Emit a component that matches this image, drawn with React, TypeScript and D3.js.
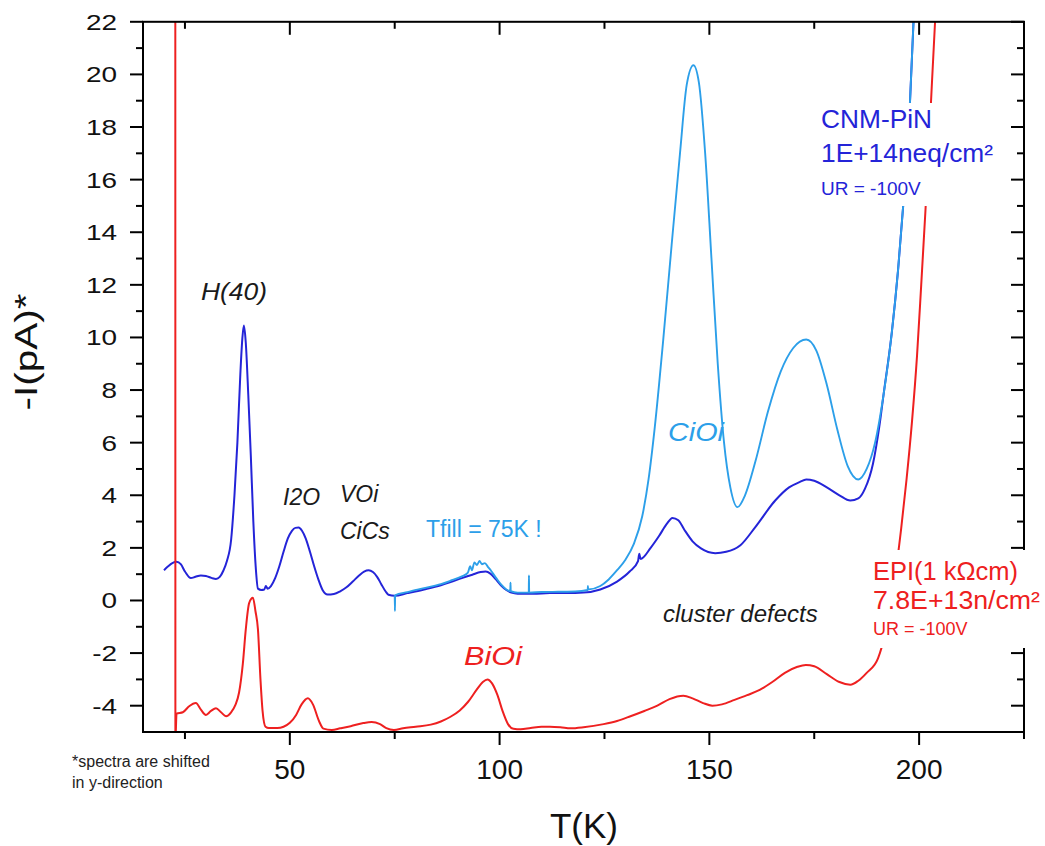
import React from "react";
import * as d3 from "d3";

// Temperature (K) / current (pA, shifted) pairs for each spectrum
const pinStandard: [number, number][] = [
  [20, 1.15], [21, 1.3], [22, 1.42], [23, 1.47], [24, 1.38], [25, 1.1], [26.4, 0.85], [27.5, 0.9],
  [28.8, 0.95], [30, 0.93], [31.3, 0.86], [32.4, 0.82], [33.3, 0.9], [34.2, 1.15], [35, 1.5], [36, 2.3],
  [36.8, 4.0], [37.5, 6.0], [38.2, 8.6], [38.7, 10.0], [39.05, 10.45], [39.5, 9.8], [40.1, 7.8], [40.7, 5.5],
  [41.3, 3.0], [41.9, 1.2], [42.4, 0.45], [43.2, 0.4], [43.9, 0.42], [44.3, 0.55], [44.7, 0.45], [45.5, 0.55],
  [46.5, 0.85], [47.5, 1.3], [48.5, 1.85], [49.5, 2.35], [50.5, 2.65], [51.3, 2.76], [52.1, 2.77], [52.9, 2.65],
  [53.8, 2.35], [54.8, 1.85], [55.8, 1.3], [56.8, 0.8], [57.8, 0.4], [59, 0.23], [60.5, 0.25], [62, 0.35],
  [63.5, 0.5], [65, 0.72], [66.5, 0.95], [67.7, 1.1], [68.8, 1.15], [69.8, 1.08], [70.8, 0.9], [71.8, 0.62],
  [72.8, 0.35], [73.5, 0.22], [75, 0.18], [78, 0.28], [82, 0.42], [86, 0.58], [88.3, 0.7], [91, 0.85],
  [93.5, 0.98], [95.5, 1.08], [96.7, 1.1], [97.8, 1.02], [99, 0.82], [100.3, 0.58], [101.6, 0.4], [102.8, 0.3],
  [104.3, 0.26], [108, 0.26], [112, 0.28], [116, 0.28], [120, 0.3], [124, 0.42], [128, 0.72], [131, 1.1],
  [133, 1.5], [133.3, 1.78], [133.6, 1.58], [136, 2.0], [138, 2.45], [139.8, 2.9], [141.2, 3.14], [142.6, 3.05],
  [144, 2.7], [146, 2.25], [148, 1.98], [151.4, 1.8], [154, 1.85], [157.4, 2.1], [161, 2.8], [165.7, 3.8],
  [169, 4.3], [171.5, 4.5], [173.1, 4.6], [175, 4.55], [178, 4.3], [181, 4.0], [183.6, 3.8], [185.5, 3.88],
  [187.1, 4.25], [189, 5.2], [190.5, 6.6], [191.5, 7.8], [193.5, 10.2], [195, 12.6], [196.5, 15.6],
  [197.7, 18.5], [198.8, 22.5],
];

const pinFill75: [number, number][] = [
  [75.0, 0.2], [75.05, -0.4], [75.1, 0.2], [78, 0.32], [82, 0.47], [86, 0.62], [88.3, 0.75], [91, 0.92],
  [92.4, 1.05], [93, 1.3], [93.4, 1.15], [94, 1.45], [94.6, 1.35], [95.2, 1.5], [95.8, 1.38], [96.5, 1.42],
  [97.2, 1.28], [98, 1.12], [99.2, 0.85], [100.4, 0.6], [101.6, 0.42], [102.55, 0.36], [102.6, 0.68],
  [102.65, 0.36], [104.3, 0.3], [106.95, 0.3], [107.0, 0.95], [107.05, 0.3], [110, 0.32], [114, 0.33],
  [118, 0.34], [121, 0.4], [121.05, 0.55], [121.1, 0.42], [124, 0.55], [126, 0.8], [128, 1.15], [130, 1.55],
  [132, 2.15], [134, 3.2], [135.5, 4.6], [137, 6.6], [139, 9.9], [141, 13.5], [143, 17.0], [144.6, 19.6],
  [146.2, 20.35], [147.5, 19.7], [149, 17.0], [150.5, 13.0], [152, 9.0], [153.5, 6.0], [155, 4.3],
  [156.7, 3.55], [158.5, 4.0], [161, 5.3], [164, 7.2], [167, 8.7], [170, 9.6], [173.1, 9.92], [175.5, 9.5],
  [178, 8.2], [180.5, 6.5], [183, 5.1], [185.5, 4.6], [187.5, 5.0], [189.5, 6.0], [191.5, 7.8], [193.5, 10.2],
  [195, 12.6], [196.5, 15.6], [197.7, 18.5], [198.8, 22.5],
];

const epiCurve: [number, number][] = [
  [22.7, 26], [22.72, -5.3], [23.0, -4.3], [24.5, -4.25], [26, -4.02], [27.6, -3.9], [28.8, -4.15],
  [30, -4.35], [31.2, -4.2], [32.4, -4.1], [33.6, -4.25], [34.8, -4.4], [36, -4.25], [37, -3.98],
  [37.9, -3.5], [38.8, -2.4], [39.5, -1.1], [40.3, -0.1], [41.2, 0.1], [41.8, -0.4], [42.4, -1.1],
  [43.0, -3.0], [43.5, -4.2], [44.2, -4.8], [45, -4.85], [47, -4.85], [48.5, -4.8], [50, -4.65],
  [51.5, -4.35], [52.8, -3.95], [54.3, -3.72], [55.5, -3.95], [57, -4.6], [58, -4.87], [60, -4.92],
  [62, -4.86], [64.5, -4.78], [67.5, -4.66], [69.5, -4.62], [71.5, -4.7], [73, -4.85], [74.8, -4.92],
  [77, -4.86], [80, -4.8], [83.6, -4.72], [86, -4.6], [88.3, -4.42], [90.5, -4.18], [92.5, -3.85],
  [94.5, -3.4], [96, -3.1], [97.1, -3.0], [98.2, -3.15], [99.5, -3.6], [100.7, -4.2], [102, -4.7],
  [103.3, -4.88], [105, -4.9], [107.4, -4.85], [110, -4.8], [112, -4.8], [114.5, -4.82], [116.9, -4.86],
  [120, -4.82], [124.8, -4.7], [128, -4.58], [131.2, -4.4], [134.5, -4.2], [137.6, -4.0], [140.5, -3.75],
  [143.8, -3.62], [146, -3.72], [148.5, -3.9], [150.7, -4.0], [153, -3.95], [156, -3.78], [159, -3.6],
  [162, -3.4], [165, -3.1], [168, -2.75], [171, -2.52], [173, -2.45], [175, -2.5], [178, -2.8], [181, -3.1],
  [183.6, -3.2], [185.5, -3.05], [187.5, -2.75], [190.2, -2.2], [192, -1.2], [194, 0.6], [195.7, 2.7],
  [197, 4.6], [198.3, 6.8], [199.5, 9.3], [200.5, 12.0], [201.5, 14.8], [202.3, 17.2], [203, 19.5],
  [203.8, 22], [204.3, 23.5],
];

const xMajorTicks = [50, 100, 150, 200];
const xMinorTicks = [25, 75, 125, 175, 225];
const yMajorTicks = [-4, -2, 0, 2, 4, 6, 8, 10, 12, 14, 16, 18, 20, 22];
const yMinorTicks = [-3, -1, 1, 3, 5, 7, 9, 11, 13, 15, 17, 19, 21];

const DARK_BLUE = "#2424d8";
const LIGHT_BLUE = "#2c9fe9";
const RED = "#ee2020";
const FONT = "'Liberation Sans', Arial, Helvetica, sans-serif";

const W = 1045;
const H = 846;
const L = 143;
const R = 1024;
const T = 21.8;
const B = 732;

export default function App() {
  const x = d3.scaleLinear().domain([15, 225]).range([L, R]);
  const y = d3.scaleLinear().domain([-5, 22]).range([B, T]);
  const line = d3
    .line<[number, number]>()
    .x((d) => x(d[0]))
    .y((d) => y(d[1]))
    .curve(d3.curveMonotoneX);

  const majorLen = 13;
  const minorLen = 7;

  return (
    <svg
      width={W}
      height={H}
      style={{ position: "absolute", left: 0, top: 0, background: "#fff" }}
      fontFamily={FONT}
    >
      <defs>
        <clipPath id="plot-area">
          <rect x={L} y={T} width={R - L} height={B - T} />
        </clipPath>
      </defs>
      <rect x={0} y={0} width={W} height={H} fill="#fff" />

      {/* spectra: standard fill below, 75 K fill above it */}
      <g clipPath="url(#plot-area)" fill="none" strokeWidth={2} strokeLinejoin="round">
        <path d={line(pinStandard) || ""} stroke={DARK_BLUE} />
        <path d={line(pinFill75) || ""} stroke={LIGHT_BLUE} strokeWidth={1.9} />
        <path d={line(epiCurve) || ""} stroke={RED} />
      </g>

      {/* frame and ticks */}
      <g stroke="#000" strokeWidth={2}>
        <rect x={L} y={T} width={R - L} height={B - T} fill="none" />
        {xMajorTicks.map((t) => (
          <g key={"xM" + t}>
            <line x1={x(t)} x2={x(t)} y1={B} y2={B + majorLen} />
            <line x1={x(t)} x2={x(t)} y1={T} y2={T + majorLen} />
          </g>
        ))}
        {xMinorTicks.map((t) => (
          <g key={"xm" + t}>
            <line x1={x(t)} x2={x(t)} y1={B} y2={B + minorLen} />
            <line x1={x(t)} x2={x(t)} y1={T} y2={T + minorLen} />
          </g>
        ))}
        {yMajorTicks.map((t) => (
          <g key={"yM" + t}>
            <line x1={L - majorLen} x2={L} y1={y(t)} y2={y(t)} />
            <line x1={R - majorLen} x2={R} y1={y(t)} y2={y(t)} />
          </g>
        ))}
        {yMinorTicks.map((t) => (
          <g key={"ym" + t}>
            <line x1={L - minorLen} x2={L} y1={y(t)} y2={y(t)} />
            <line x1={R - minorLen} x2={R} y1={y(t)} y2={y(t)} />
          </g>
        ))}
      </g>

      {/* tick labels */}
      <g fill="#111" fontSize={28} textAnchor="middle">
        {xMajorTicks.map((t) => (
          <text key={"xl" + t} x={x(t)} y={779}>
            {t}
          </text>
        ))}
      </g>
      <g fill="#111" fontSize={22} textAnchor="end">
        {yMajorTicks.map((t) => (
          <text key={"yl" + t} transform={`translate(117,${y(t) + 8}) scale(1.27,1)`}>
            {t}
          </text>
        ))}
      </g>

      {/* axis titles */}
      <text x={584} y={838} fontSize={35} textAnchor="middle" fill="#111">
        T(K)
      </text>
      <text
        transform={`translate(37,352) rotate(-90)`}
        fontSize={31}
        textAnchor="middle"
        fill="#111"
        textLength={117}
        lengthAdjust="spacingAndGlyphs"
      >
        -I(pA)*
      </text>

      {/* footnote */}
      <g fontSize={16} fill="#222">
        <text x={72} y={767}>*spectra are shifted</text>
        <text x={72} y={788}>in y-direction</text>
      </g>

      {/* defect annotations */}
      <g fontSize={23} fontStyle="italic" fill="#1a1a1a">
        <text x={234} y={300} textAnchor="middle" fontSize={24} textLength={66} lengthAdjust="spacingAndGlyphs">H(40)</text>
        <text x={283} y={505}>I2O</text>
        <text x={340} y={502}>VOi</text>
        <text x={340} y={539}>CiCs</text>
        <text x={663} y={622} fontSize={24}>cluster defects</text>
      </g>
      <text x={426} y={537} fontSize={23} fill={LIGHT_BLUE}>Tfill = 75K !</text>
      <text x={668} y={441} fontSize={25} fontStyle="italic" fill={LIGHT_BLUE} textLength={56} lengthAdjust="spacingAndGlyphs">CiOi</text>
      <text x={464} y={665} fontSize={25} fontStyle="italic" fill={RED} textLength={58} lengthAdjust="spacingAndGlyphs">BiOi</text>

      {/* sample labels */}
      <rect x={815} y={103} width={188} height={103} fill="#fff" />
      <g fill={DARK_BLUE}>
        <text x={821} y={128} fontSize={25} textLength={111} lengthAdjust="spacingAndGlyphs">CNM-PiN</text>
        <text x={821} y={162} fontSize={25} textLength={172} lengthAdjust="spacingAndGlyphs">1E+14neq/cm²</text>
        <text x={821} y={195} fontSize={19}>UR = -100V</text>
      </g>
      <rect x={868} y={550} width={177} height={98} fill="#fff" />
      <g fill={RED}>
        <text x={873} y={580} fontSize={25} textLength={145} lengthAdjust="spacingAndGlyphs">EPI(1 kΩcm)</text>
        <text x={873} y={609} fontSize={25} textLength={167} lengthAdjust="spacingAndGlyphs">7.8E+13n/cm²</text>
        <text x={873} y={635} fontSize={18}>UR = -100V</text>
      </g>
    </svg>
  );
}
